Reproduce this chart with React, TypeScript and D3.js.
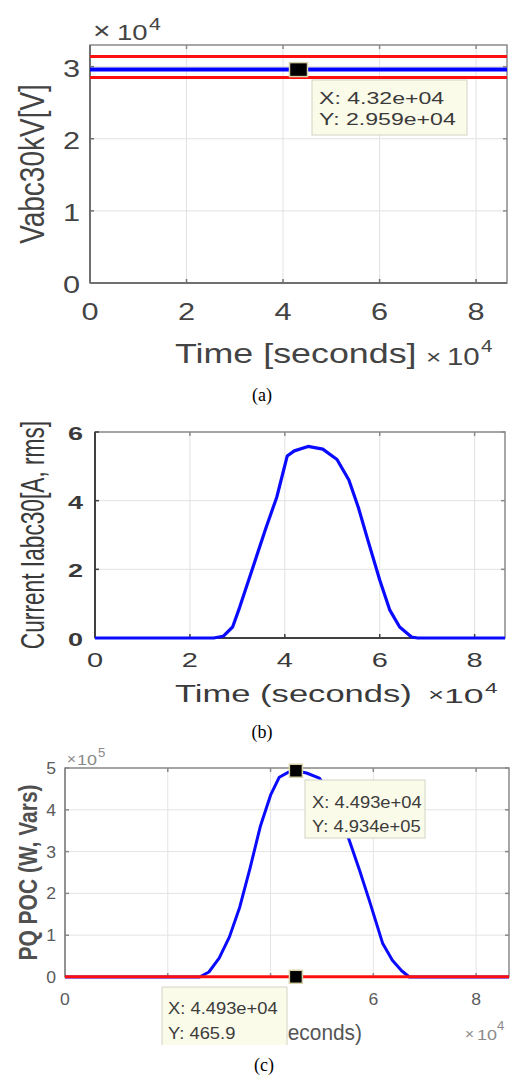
import React from 'react';
import * as d3 from 'd3';

const SANS = '"Liberation Sans", Arial, Helvetica, sans-serif';
const SERIF = '"Liberation Serif", "Times New Roman", serif';

// ---------- shared ----------
const xTicks = [0, 20000, 40000, 60000, 80000];
const xTickLabels = ['0', '2', '4', '6', '8'];
const DAY_END = 86400;

// ---------- panel (a) ----------
const vTime = [0, 86400];
const vPhaseHigh = [31400, 31400];
const vPhaseMid = [29590, 29590];
const vPhaseLow = [28500, 28500];
const aYTicks = [0, 10000, 20000, 30000];
const aYTickLabels = ['0', '1', '2', '3'];
const tipA = { x: 43200, y: 29590, lines: ['X: 4.32e+04', 'Y: 2.959e+04'] };

// ---------- panel (b) ----------
const iTime = [0, 25000, 27000, 29000, 30500, 33300, 36000, 38300, 40500, 42000, 44900, 48000, 51000, 53500, 55500, 57500, 60000, 62100, 64200, 66700, 68000, 86400];
const iRms = [0, 0, 0.05, 0.32, 0.9, 2.07, 3.2, 4.1, 5.3, 5.45, 5.58, 5.5, 5.2, 4.6, 3.8, 2.85, 1.69, 0.82, 0.32, 0.03, 0, 0];
const bYTicks = [0, 2, 4, 6];
const bYTickLabels = ['0', '2', '4', '6'];

// ---------- panel (c) ----------
const pTime = [0, 26200, 28000, 30000, 32000, 34000, 36000, 38000, 40000, 41700, 43500, 44930, 47000, 49500, 51000, 53000, 55300, 57300, 59200, 61800, 63700, 65500, 67000, 86400];
const pActive = [0, 0, 12000, 45000, 96000, 167000, 260000, 360000, 435000, 478000, 490000, 493400, 488000, 476000, 450000, 395000, 328000, 256000, 184000, 81000, 40000, 15000, 0, 0];
const qTime = [0, 86400];
const qReactive = [465.9, 465.9];
const cYTicks = [0, 100000, 200000, 300000, 400000, 500000];
const cYTickLabels = ['0', '1', '2', '3', '4', '5'];
const tipC1 = { x: 44930, y: 493400, lines: ['X: 4.493e+04', 'Y: 4.934e+05'] };
const tipC2 = { x: 44930, y: 465.9, lines: ['X: 4.493e+04', 'Y: 465.9'] };

type TProps = {
  x: number; y: number; size: number; sx?: number; anchor?: string; fill?: string;
  weight?: string; family?: string; rotate?: boolean; clip?: string; children: React.ReactNode;
};
function T({ x, y, size, sx = 1, anchor = 'start', fill = '#444', weight = 'normal', family = SANS, rotate = false, clip, children }: TProps) {
  const tr = rotate
    ? `translate(${x},${y}) rotate(-90) scale(1,${sx})`
    : `translate(${x},${y}) scale(${sx},1)`;
  const el = (
    <text transform={tr} fontSize={size} textAnchor={anchor as any} fill={fill} fontWeight={weight} fontFamily={family}>
      {children}
    </text>
  );
  return clip ? <g clipPath={`url(#${clip})`}>{el}</g> : el;
}

function Frame({ xs, ys, yTicks, color, leftColor, lw, gridColor }: any) {
  const [x0, x1] = xs.range();
  const [y0, y1] = ys.range(); // y0 bottom, y1 top
  return (
    <g>
      {xTicks.slice(1).map((t) => (
        <line key={'gx' + t} x1={xs(t)} x2={xs(t)} y1={y0} y2={y1} stroke={gridColor} strokeWidth={1} />
      ))}
      {yTicks.slice(1).map((t: number) => (
        <line key={'gy' + t} x1={x0} x2={x1} y1={ys(t)} y2={ys(t)} stroke={gridColor} strokeWidth={1} />
      ))}
      <rect x={x0} y={y1} width={x1 - x0} height={y0 - y1} fill="none" stroke={color} strokeWidth={1.5} />
      <line x1={x0} x2={x0} y1={y1} y2={y0} stroke={leftColor} strokeWidth={lw} />
      <line x1={x0} x2={x1} y1={y0} y2={y0} stroke={leftColor} strokeWidth={lw} />
      {xTicks.slice(1).map((t) => (
        <g key={'tx' + t}>
          <line x1={xs(t)} x2={xs(t)} y1={y0} y2={y0 - 4} stroke={leftColor} strokeWidth={1.5} />
          <line x1={xs(t)} x2={xs(t)} y1={y1} y2={y1 + 4} stroke={color} strokeWidth={1.5} />
        </g>
      ))}
      {yTicks.slice(1).map((t: number) => (
        <g key={'ty' + t}>
          <line x1={x0} x2={x0 + 4} y1={ys(t)} y2={ys(t)} stroke={leftColor} strokeWidth={1.5} />
          <line x1={x1} x2={x1 - 4} y1={ys(t)} y2={ys(t)} stroke={color} strokeWidth={1.5} />
        </g>
      ))}
    </g>
  );
}

function Marker({ cx, cy, w, h }: any) {
  return <rect x={cx - w / 2} y={cy - h / 2} width={w} height={h} fill="#000" stroke="#d8d2a8" strokeWidth={1.5} />;
}

function TipBox({ x, y, w, h, openBottom = false }: any) {
  if (openBottom) {
    return (
      <g>
        <rect x={x} y={y} width={w} height={h} fill="#fbfbea" />
        <path d={`M${x},${y + h} V${y} H${x + w} V${y + h}`} fill="none" stroke="#d4d4c4" strokeWidth={1} />
      </g>
    );
  }
  return <rect x={x} y={y} width={w} height={h} fill="#fbfbea" stroke="#d4d4c4" strokeWidth={1} />;
}

export default function App() {
  // ----- scales -----
  const xA = d3.scaleLinear().domain([0, DAY_END]).range([90, 507]);
  const yA = d3.scaleLinear().domain([0, 33000]).range([283, 45]);
  const xB = d3.scaleLinear().domain([0, DAY_END]).range([95, 505]);
  const yB = d3.scaleLinear().domain([0, 6]).range([638, 432]);
  const xC = d3.scaleLinear().domain([0, DAY_END]).range([65, 509]);
  const yC = d3.scaleLinear().domain([0, 500000]).range([977, 768]);

  const lineA = (vals: number[]) =>
    d3.line<number>().x((_, i) => xA(vTime[i])).y((d) => yA(d))(vals) || '';
  const lineB = d3.line<number>().x((_, i) => xB(iTime[i])).y((d) => yB(d))(iRms) || '';
  const lineP = d3.line<number>().x((_, i) => xC(pTime[i])).y((d) => yC(d))(pActive) || '';
  const lineQ = d3.line<number>().x((_, i) => xC(qTime[i])).y((d) => yC(d))(qReactive) || '';

  // lower datatip box of (c) hides part of the x axis text, as in the reference
  const tipBoxC2 = { x: 162, y: 987, w: 125, h: 58 };
  const hiddenByTip = (px: number) => px > tipBoxC2.x - 6 && px < tipBoxC2.x + tipBoxC2.w + 6;

  return (
    <svg width={510} height={1076} style={{ position: 'absolute', left: 0, top: 0, background: '#fff' }}>
      <defs>
        <clipPath id="clipXLabelC">
          <rect x={tipBoxC2.x + tipBoxC2.w} y={1010} width={200} height={40} />
        </clipPath>
      </defs>
      <rect x={0} y={0} width={510} height={1076} fill="#fff" />

      {/* ================= (a) ================= */}
      <g>
        <Frame xs={xA} ys={yA} yTicks={aYTicks} color="#8a8a8a" leftColor="#707070" lw={2} gridColor="#e2e2e2" />
        <path d={lineA(vPhaseHigh)} fill="none" stroke="#ff1010" strokeWidth={3} />
        <path d={lineA(vPhaseLow)} fill="none" stroke="#ff1010" strokeWidth={3} />
        <path d={lineA(vPhaseMid)} fill="none" stroke="#0000ff" strokeWidth={4} />
        {aYTicks.map((t, i) => (
          <T key={'ay' + t} x={80} y={yA(t) + 10} size={24} sx={1.28} anchor="end">{aYTickLabels[i]}</T>
        ))}
        {xTicks.map((t, i) => (
          <T key={'ax' + t} x={xA(t)} y={320} size={24} sx={1.28} anchor="middle">{xTickLabels[i]}</T>
        ))}
        <T x={93} y={39} size={24} sx={1.25}>×</T>
        <T x={117} y={40} size={22} sx={1.25}>10</T>
        <T x={149} y={30} size={17} sx={1.25}>4</T>
        <T x={175} y={363} size={28} sx={1.28}>Time [seconds]</T>
        <T x={426} y={364} size={21} sx={1.25}>×</T>
        <T x={447} y={365} size={23} sx={1.28}>10</T>
        <T x={481} y={352} size={16} sx={1.28}>4</T>
        <T x={44} y={(yA(0) + yA(33000)) / 2} size={28} sx={1.28} anchor="middle" rotate>Vabc30kV[V]</T>
        <TipBox x={312} y={80} w={155} h={55} />
        <T x={319} y={104} size={16.5} sx={1.4} fill="#3a3a3a">{tipA.lines[0]}</T>
        <T x={319} y={125} size={16.5} sx={1.4} fill="#3a3a3a">{tipA.lines[1]}</T>
        <Marker cx={xA(tipA.x)} cy={yA(tipA.y)} w={18} h={14} />
        <T x={262} y={401} size={18} anchor="middle" fill="#000" family={SERIF}>(a)</T>
      </g>

      {/* ================= (b) ================= */}
      <g>
        <Frame xs={xB} ys={yB} yTicks={bYTicks} color="#8a8a8a" leftColor="#404040" lw={2} gridColor="#e2e2e2" />
        <path d={lineB} fill="none" stroke="#0a0aff" strokeWidth={3.2} strokeLinejoin="round" />
        {bYTicks.map((t, i) => (
          <T key={'by' + t} x={83} y={yB(t) + 8} size={18} sx={1.5} anchor="end" fill="#3a3a3a" weight="bold">{bYTickLabels[i]}</T>
        ))}
        {xTicks.map((t, i) => (
          <T key={'bx' + t} x={xB(t)} y={667} size={20} sx={1.45} anchor="middle" fill="#3a3a3a">{xTickLabels[i]}</T>
        ))}
        <T x={175} y={702} size={24} sx={1.44} fill="#3a3a3a">Time (seconds)</T>
        <T x={428} y={701} size={19} sx={1.45} fill="#3a3a3a">×</T>
        <T x={444} y={703} size={21} sx={1.7} fill="#3a3a3a">10</T>
        <T x={485} y={693} size={15} sx={1.5} fill="#3a3a3a">4</T>
        <T x={44} y={(yB(0) + yB(6)) / 2} size={22.7} sx={1.45} anchor="middle" rotate fill="#3a3a3a">Current Iabc30[A, rms]</T>
        <T x={262} y={738} size={18} anchor="middle" fill="#000" family={SERIF}>(b)</T>
      </g>

      {/* ================= (c) ================= */}
      <g>
        <Frame xs={xC} ys={yC} yTicks={cYTicks} color="#8a8a8a" leftColor="#8a8a8a" lw={1.5} gridColor="#e4e4e4" />
        <path d={lineP} fill="none" stroke="#0a0aff" strokeWidth={3} strokeLinejoin="round" />
        <path d={lineQ} fill="none" stroke="#ff1010" strokeWidth={3} />
        {cYTicks.map((t, i) => (
          <T key={'cy' + t} x={56} y={yC(t) + 6} size={16} sx={1.1} anchor="end" fill="#5a5a5a">{cYTickLabels[i]}</T>
        ))}
        {xTicks.map((t, i) =>
          hiddenByTip(xC(t)) ? null : (
            <T key={'cx' + t} x={xC(t)} y={1005} size={16} sx={1.1} anchor="middle" fill="#5a5a5a">{xTickLabels[i]}</T>
          )
        )}
        <T x={67} y={764} size={14} sx={1.1} fill="#8a8a8a">×</T>
        <T x={77} y={765} size={15} sx={1.2} fill="#8a8a8a">10</T>
        <T x={98} y={757} size={12} sx={1.1} fill="#8a8a8a">5</T>
        <T x={362} y={1040} size={22} sx={0.95} anchor="end" fill="#555" clip="clipXLabelC">Time (seconds)</T>
        <T x={465} y={1039} size={14} sx={1.1} fill="#8a8a8a">×</T>
        <T x={477} y={1040} size={15} sx={1.2} fill="#8a8a8a">10</T>
        <T x={497} y={1030} size={12} sx={1.1} fill="#8a8a8a">4</T>
        <T x={37} y={(yC(0) + yC(500000)) / 2} size={21} sx={1.2} anchor="middle" rotate fill="#505050" weight="bold">PQ POC (W, Vars)</T>
        <TipBox x={305} y={780} w={120} h={58} />
        <T x={312} y={808} size={17} sx={1.08} fill="#3c3c3c">{tipC1.lines[0]}</T>
        <T x={312} y={832} size={17} sx={1.08} fill="#3c3c3c">{tipC1.lines[1]}</T>
        <Marker cx={xC(tipC1.x)} cy={yC(tipC1.y)} w={13} h={13} />
        <TipBox x={tipBoxC2.x} y={tipBoxC2.y} w={tipBoxC2.w} h={tipBoxC2.h} openBottom />
        <T x={168} y={1014} size={17} sx={1.08} fill="#3c3c3c">{tipC2.lines[0]}</T>
        <T x={168} y={1039} size={17} sx={1.08} fill="#3c3c3c">{tipC2.lines[1]}</T>
        <Marker cx={xC(tipC2.x)} cy={yC(tipC2.y)} w={13} h={13} />
        <T x={264} y={1071} size={18} anchor="middle" fill="#000" family={SERIF}>(c)</T>
      </g>
    </svg>
  );
}
